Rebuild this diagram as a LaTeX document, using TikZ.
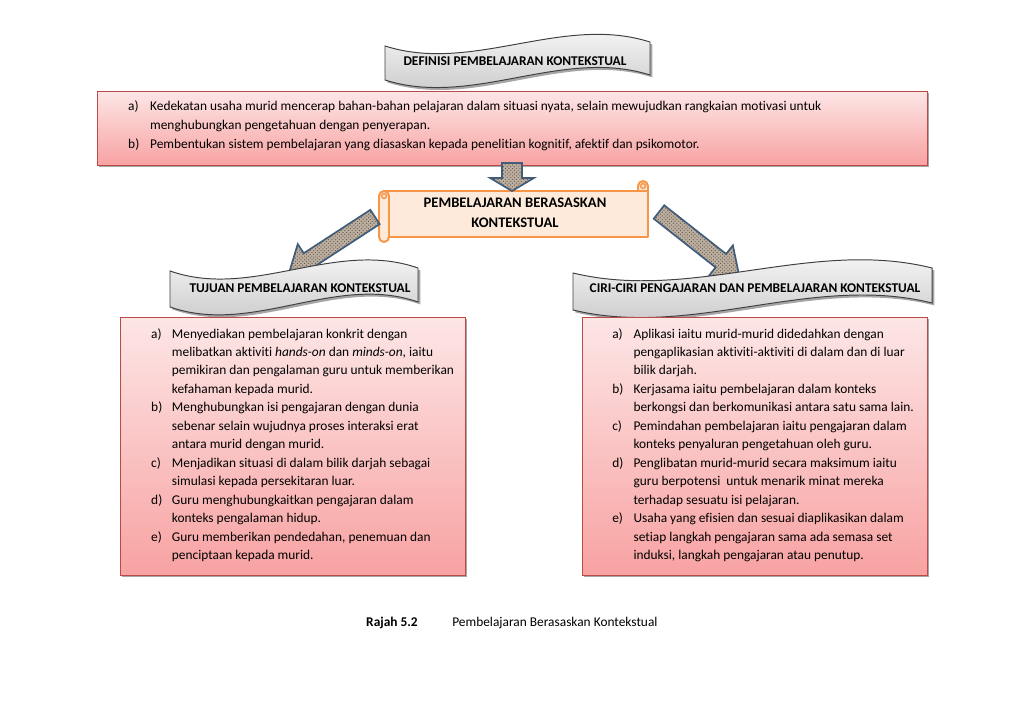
\documentclass[tikz,border=0pt]{standalone}
\usepackage{fontspec}
\setmainfont[Ligatures={NoCommon,NoContextual}]{Carlito}
\usetikzlibrary{calc,shadows,patterns,fit}
\definecolor{pinktop}{HTML}{FDE6E6}
\definecolor{pinkbot}{HTML}{F8A2A2}
\definecolor{boxred}{HTML}{B84A47}
\definecolor{scrollfill}{HTML}{FDEADA}
\definecolor{scrollline}{HTML}{F79646}
\definecolor{arrowline}{HTML}{3F5D7E}
\definecolor{granite}{HTML}{BDB0A0}
\definecolor{granitedark}{HTML}{5E5248}
\definecolor{bannerline}{HTML}{404040}
\definecolor{bannerbot}{HTML}{C2C2C2}
\newcommand\blockarrow[6]{%
  \coordinate (#6) at ($(#2)!#5!(#1)$);
  \filldraw[blockarr] ($(#1)!#3!90:(#2)$) -- ($(#6)!#3!-90:(#1)$) -- ($(#6)!#4!-90:(#1)$) -- (#2)
    -- ($(#6)!#4!90:(#1)$) -- ($(#6)!#3!90:(#1)$) -- ($(#1)!#3!-90:(#2)$) -- cycle;
}
\begin{document}
\begin{tikzpicture}[x=0.8222pt,y=-0.8222pt,
  shad/.style={drop shadow={shadow xshift=2pt,shadow yshift=-2pt,opacity=0.35,fill=black}},
  pinkbox/.style={draw=boxred,line width=0.8pt,top color=pinktop,bottom color=pinkbot,inner sep=0,shad},
  banner/.style={draw=bannerline,line width=0.8pt,top color=white,bottom color=bannerbot,shad},
  scrollshape/.style={draw=scrollline,fill=scrollfill,line width=1.6pt,line join=round},
  blockarr/.style={draw=arrowline,line width=1.4pt,fill=granite,line join=miter,
    postaction={pattern=crosshatch dots,pattern color=granitedark}},
  title/.style={font=\fontsize{11}{13}\selectfont\bfseries,inner sep=0},
  itemtext/.style={inner sep=0,anchor=base west,align=left,font=\fontsize{11}{15.2}\selectfont}]
\useasboundingbox (0,0) rectangle (1024,725);

% ---------- top banner ----------
\path[banner] (385,46) .. controls (473,74) and (562,14) .. (650,42) -- (650,75)
  .. controls (562,47) and (473,108) .. (385,80) -- cycle;
\node[title] (deftitle) at (515,61) {DEFINISI PEMBELAJARAN KONTEKSTUAL};

% ---------- definition box ----------
\node[pinkbox,fit={(97,91) (927,165)}] (defbox) {};
\node[itemtext,font=\fontsize{11}{15.8}\selectfont] (deftext) at (128,110) {%
\begin{tabular}[t]{@{}p{18pt}@{}l@{}}
a) & Kedekatan usaha murid mencerap bahan-bahan pelajaran dalam situasi nyata, selain mewujudkan rangkaian motivasi untuk\\
   & menghubungkan pengetahuan dengan penyerapan.\\
b) & Pembentukan sistem pembelajaran yang diasaskan kepada penelitian kognitif, afektif dan psikomotor.
\end{tabular}};

% ---------- centre scroll ----------
\filldraw[scrollshape] (384,191) -- (648,191) -- (648,237) -- (384,237) -- cycle;
\filldraw[scrollshape] (638,191) -- (638,186) arc[start angle=180,end angle=0,radius=4.1pt] -- (648,191) -- cycle;
\draw[draw=scrollline,line width=1.2pt] (643,186) circle[radius=2pt];
\filldraw[scrollshape] (379,196) arc[start angle=180,end angle=0,radius=4.1pt] -- (389,237)
  arc[start angle=0,end angle=-180,radius=4.1pt] -- cycle;
\draw[draw=scrollline,line width=1.2pt] (384,196) circle[radius=2pt];
\node[font=\fontsize{12}{16.4}\selectfont\bfseries,align=center,inner sep=0] (scroll) at (515,213)
  {PEMBELAJARAN BERASASKAN\\KONTEKSTUAL};

% ---------- arrows ----------
\coordinate (dtail) at (512,163);
\coordinate (dtip) at (512,191);
\blockarrow{dtail}{dtip}{8.2pt}{18pt}{10.7pt}{dhead}
\coordinate (ltail) at (375,217);
\coordinate (ltip) at (289,273);
\blockarrow{ltail}{ltip}{7pt}{16pt}{19pt}{lhead}
\coordinate (rtail) at (659,212);
\coordinate (rtip) at (739,275);
\blockarrow{rtail}{rtip}{7pt}{16pt}{19pt}{rhead}

% ---------- left banner ----------
\path[banner] (170,271) .. controls (253,300) and (335,239) .. (418,268) -- (418,302)
  .. controls (335,273) and (253,336) .. (170,307) -- cycle;
\node[title] (lefttitle) at (300,288) {TUJUAN PEMBELAJARAN KONTEKSTUAL};

% ---------- right banner ----------
\path[banner] (573,273) .. controls (693,302) and (812,238) .. (932,268) -- (932,303)
  .. controls (812,273) and (693,339) .. (573,310) -- cycle;
\node[title] (righttitle) at (755,288) {CIRI-CIRI PENGAJARAN DAN PEMBELAJARAN KONTEKSTUAL};

% ---------- left box ----------
\node[pinkbox,fit={(120,317) (465,575)}] (leftbox) {};
\node[itemtext] (lefttext) at (151,338) {%
\begin{tabular}[t]{@{}p{17pt}@{}l@{}}
a) & Menyediakan pembelajaran konkrit dengan\\
   & melibatkan aktiviti \emph{hands-on} dan \emph{minds-on}, iaitu\\
   & pemikiran dan pengalaman guru untuk memberikan\\
   & kefahaman kepada murid.\\
b) & Menghubungkan isi pengajaran dengan dunia\\
   & sebenar selain wujudnya proses interaksi erat\\
   & antara murid dengan murid.\\
c) & Menjadikan situasi di dalam bilik darjah sebagai\\
   & simulasi kepada persekitaran luar.\\
d) & Guru menghubungkaitkan pengajaran dalam\\
   & konteks pengalaman hidup.\\
e) & Guru memberikan pendedahan, penemuan dan\\
   & penciptaan kepada murid.
\end{tabular}};

% ---------- right box ----------
\node[pinkbox,fit={(582,317) (927,575)}] (rightbox) {};
\node[itemtext] (righttext) at (612,338) {%
\begin{tabular}[t]{@{}p{17.5pt}@{}l@{}}
a) & Aplikasi iaitu murid-murid didedahkan dengan\\
   & pengaplikasian aktiviti-aktiviti di dalam dan di luar\\
   & bilik darjah.\\
b) & Kerjasama iaitu pembelajaran dalam konteks\\
   & berkongsi dan berkomunikasi antara satu sama lain.\\
c) & Pemindahan pembelajaran iaitu pengajaran dalam\\
   & konteks penyaluran pengetahuan oleh guru.\\
d) & Penglibatan murid-murid secara maksimum iaitu\\
   & guru berpotensi \ untuk menarik minat mereka\\
   & terhadap sesuatu isi pelajaran.\\
e) & Usaha yang efisien dan sesuai diaplikasikan dalam\\
   & setiap langkah pengajaran sama ada semasa set\\
   & induksi, langkah pengajaran atau penutup.
\end{tabular}};

% ---------- caption ----------
\node[itemtext,font=\fontsize{11}{13}\selectfont\bfseries] (rajah) at (366,626) {Rajah 5.2};
\node[itemtext,font=\fontsize{11}{13}\selectfont] (captxt) at (452,626) {Pembelajaran Berasaskan Kontekstual};
\end{tikzpicture}
\end{document}
